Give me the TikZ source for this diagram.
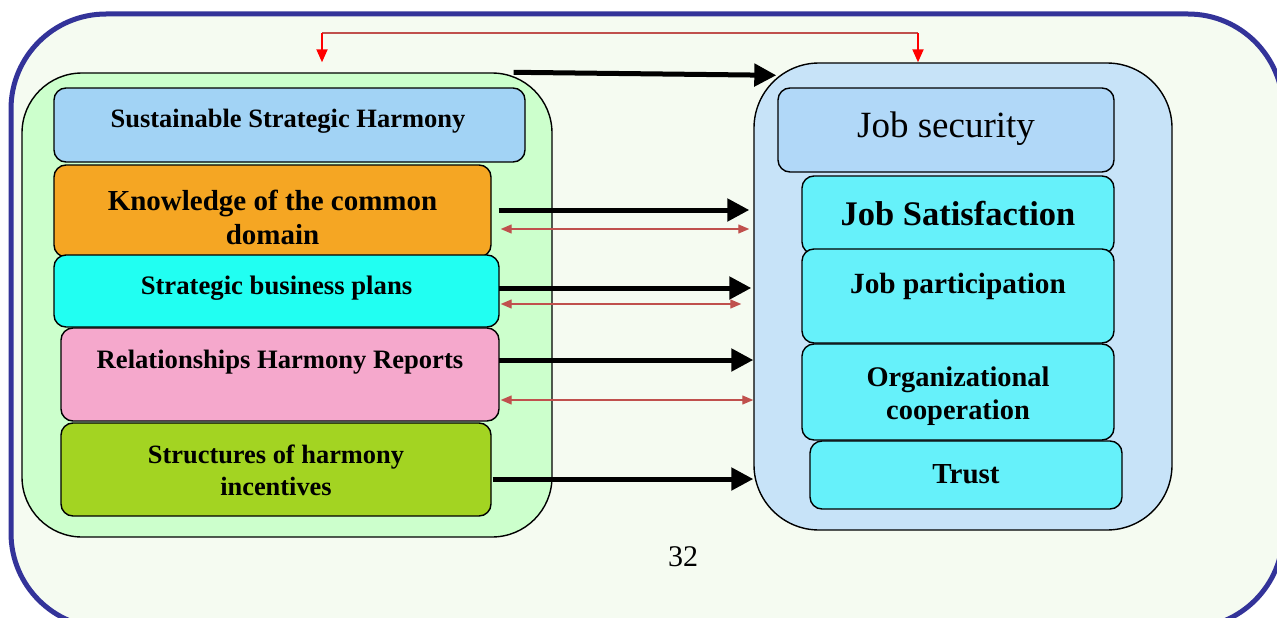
\documentclass[tikz,border=0pt]{standalone}
\usepackage{fontspec}
\setmainfont{Liberation Serif}
\usetikzlibrary{arrows.meta, positioning}

\definecolor{framebl}{HTML}{333399}
\definecolor{slidebg}{HTML}{F5FBF1}
\definecolor{lpanelc}{HTML}{CCFFCC}
\definecolor{rpanelc}{HTML}{C7E3F8}
\definecolor{sshc}{HTML}{A2D3F5}
\definecolor{kcdc}{HTML}{F5A623}
\definecolor{sbpc}{HTML}{21FFF2}
\definecolor{rhrc}{HTML}{F5A8CC}
\definecolor{shic}{HTML}{A3D422}
\definecolor{jsecc}{HTML}{B1D8F8}
\definecolor{jobc}{HTML}{66F1FA}
\definecolor{redlink}{HTML}{C0504D}

\newcommand\fsz[2]{\fontsize{#1}{#2}\selectfont}

\tikzset{
  tile/.style={draw=black, line width=1.4pt, rounded corners=12pt, inner sep=0pt, align=center},
  txt/.style={align=center, inner sep=0pt},
  panel/.style={draw=black, line width=1.4pt, inner sep=0pt},
  bigarrow/.style={line width=5pt, -{Triangle[length=22pt,width=22pt]}},
  thinarrow/.style={draw=redlink, line width=1.3pt, {Triangle[length=11pt,width=9pt]}-{Triangle[length=11pt,width=9pt]}},
  redtip/.style={draw=red, line width=2pt, -{Triangle[length=13pt,width=11pt]}},
}

\begin{document}
\begin{tikzpicture}[x=1pt, y=-1pt]
    \useasboundingbox (0,0) rectangle (1277,618);
    % slide frame, cut at the page edge
    \begin{scope}
        \clip (0,0) rectangle (1277,618);
        \fill[white] (0,0) rectangle (1277,618);
        \draw[draw=framebl, fill=slidebg, line width=5pt, rounded corners=95pt] (11,14) rectangle (1283,628);
    \end{scope}

    % the two panels
    \node[panel, fill=lpanelc, rounded corners=60pt, minimum width=530pt, minimum height=464pt] (lpanel) at (287,305) {};
    \node[panel, fill=rpanelc, rounded corners=65pt, minimum width=418pt, minimum height=467pt] (rpanel) at (963,296.5) {};

    % left stack
    \node[tile, fill=sshc, minimum width=471pt, minimum height=74pt] (ssh) at (289.5,125) {};
    \node[txt, font=\fsz{26.5}{32}\bfseries] (ssh-txt) at (288,121) {Sustainable Strategic Harmony};
    \node[tile, fill=kcdc, minimum width=437pt, minimum height=92pt] (kcd) at (272.5,211) {};
    \node[txt, font=\fsz{29}{34}\bfseries] (kcd-txt) at (272.5,217) {Knowledge of the common\\domain};
    \node[tile, fill=sbpc, minimum width=445pt, minimum height=72pt] (sbp) at (276.5,291) {};
    \node[txt, font=\fsz{26.7}{32}\bfseries] (sbp-txt) at (276.5,288) {Strategic business plans};
    \node[tile, fill=rhrc, minimum width=438pt, minimum height=93pt] (rhr) at (280,374.5) {};
    \node[txt, font=\fsz{26.6}{32}\bfseries] (rhr-txt) at (280,362) {Relationships Harmony Reports};
    \node[tile, fill=shic, minimum width=430pt, minimum height=93pt] (shi) at (276,469.5) {};
    \node[txt, font=\fsz{26.4}{32}\bfseries] (shi-txt) at (276,470) {Structures of harmony\\incentives};

    % right stack
    \node[tile, fill=jsecc, minimum width=336pt, minimum height=84pt] (jsec) at (946,130) {};
    \node[txt, font=\fsz{37}{44}] (jsec-txt) at (946,129) {Job security};
    \node[tile, fill=jobc, minimum width=312pt, minimum height=78pt] (jsat) at (958,215) {};
    \node[txt, font=\fsz{34.5}{40}\bfseries] (jsat-txt) at (958,214) {Job Satisfaction};
    \node[tile, fill=jobc, minimum width=312pt, minimum height=94pt] (jpar) at (958,296) {};
    \node[txt, font=\fsz{29.3}{35}\bfseries] (jpar-txt) at (958,286) {Job participation};
    \node[tile, fill=jobc, minimum width=312pt, minimum height=96pt] (orgc) at (958,392) {};
    \node[txt, font=\fsz{28.4}{33}\bfseries] (orgc-txt) at (958,396) {Organizational\\cooperation};
    \node[tile, fill=jobc, minimum width=312pt, minimum height=68pt] (trust) at (966,475) {};
    \node[txt, font=\fsz{29}{35}\bfseries] (trust-txt) at (966,474) {Trust};

    % feedback loop over the panels
    \coordinate (loopL) at (322,33);
    \coordinate (loopR) at (918,33);
    \draw[redlink, line width=1.3pt] (loopL) -- (loopR);
    \draw[redtip] (loopL) -- (loopL |- rpanel.north);
    \draw[redtip] (loopR) -- (loopR |- rpanel.north);

    % main arrows
    \draw[bigarrow] ([xshift=-39pt]lpanel.north east) -- ([xshift=23pt,yshift=-13pt]rpanel.north west);
    \draw[bigarrow] ([xshift=7pt,yshift=1pt]kcd.east) -- ([xshift=-4pt,yshift=1pt]kcd.east -| rpanel.west);
    \draw[bigarrow] ([xshift=-1pt,yshift=3pt]sbp.east) -- ([xshift=-2pt,yshift=3pt]sbp.east -| rpanel.west);
    \draw[bigarrow] ([xshift=-1pt,yshift=14.5pt]rhr.east) -- ([yshift=14.5pt]rhr.east -| rpanel.west);
    \draw[bigarrow] ([xshift=1pt,yshift=-9.5pt]shi.east) -- ([yshift=-9.5pt]shi.east -| rpanel.west);

    % two-way links
    \draw[thinarrow] ([xshift=9pt,yshift=-18pt]kcd.east) -- ([xshift=-4pt,yshift=-18pt]kcd.east -| rpanel.west);
    \draw[thinarrow] ([xshift=1pt,yshift=-13pt]sbp.east) -- ([xshift=-12pt,yshift=-13pt]sbp.east -| rpanel.west);
    \draw[thinarrow] ([xshift=1pt,yshift=-25.5pt]rhr.east) -- ([yshift=-25.5pt]rhr.east -| rpanel.west);

    \node[font=\fsz{30}{36}] (pageno) at (683,557) {32};
\end{tikzpicture}
\end{document}
